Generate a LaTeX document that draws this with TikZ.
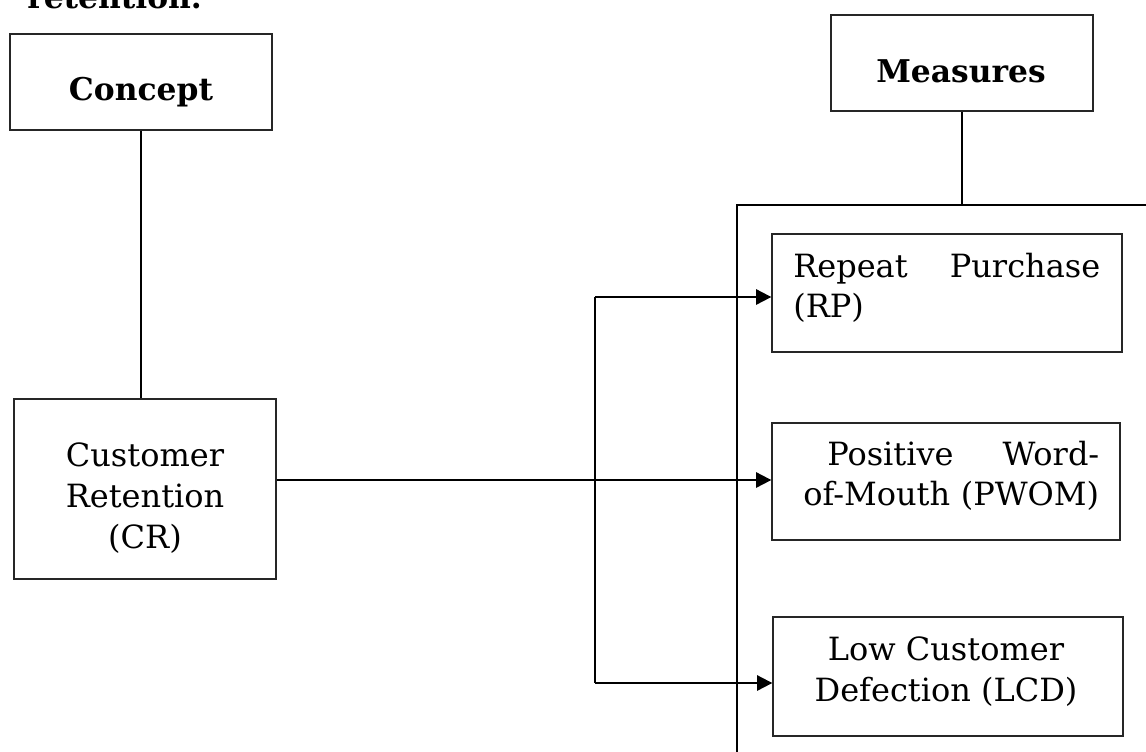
\documentclass[tikz,border=0pt]{standalone}
\usepackage{fontspec}
\setmainfont{DejaVu Serif}
\usetikzlibrary{arrows.meta}
\begin{document}
\begin{tikzpicture}[x=0.75pt,y=-0.75pt,
  box/.style={draw=black!85,line width=1pt,inner sep=0pt,minimum width=#1},
  conn/.style={line width=1.5pt,black},
  arr/.style={conn,-{Triangle[length=11.5pt,width=11.5pt]}},
  txt/.style={inner sep=0pt,font=\fontsize{24}{30.5}\selectfont},
  btxt/.style={inner sep=0pt,font=\fontsize{23.5}{30.5}\selectfont\bfseries}]
\useasboundingbox (0,0) rectangle (1146,751);
% heading fragment
\node[btxt,anchor=base west] (head) at (27,8) {retention.};
% boxes
\node[box=196.5pt,minimum height=72pt] (concept) at (141,82) {};
\node[box=196.5pt,minimum height=72pt] (measures) at (962,63) {};
\node[box=196.5pt,minimum height=135pt] (cr) at (145,489) {};
\node[box=262.5pt,minimum height=88.5pt] (rp) at (947,293) {};
\node[box=261pt,minimum height=87.75pt] (pw) at (946,481.5) {};
\node[box=262.5pt,minimum height=89.25pt] (lcd) at (948,676.5) {};
% texts
\node[btxt,anchor=base] (conceptT) at (141,100) {Concept};
\node[btxt,anchor=base] (measuresT) at (961,82) {Measures};
\node[txt,anchor=base,align=center] (crT) at (145,548) {Customer\\Retention\\(CR)};
\node[txt,anchor=base west,text width=230.25pt,align=left] (rpT) at (793,277) {Repeat\hfill Purchase\\(RP)};
\node[txt,anchor=base west,text width=222pt,align=left] (pwT) at (803,465) {\hspace*{18pt}Positive\hfill Word-\\of-Mouth~(PWOM)};
\node[txt,anchor=base,align=center] (lcdT) at (946,701) {Low Customer\\Defection (LCD)};
% connectors
\coordinate (brL) at (737,205);
\coordinate (brR) at (1150,205);
\coordinate (brB) at (737,755);
\coordinate (a1) at (595,297);
\coordinate (a3) at (595,683);
\draw[conn] (concept.south) -- (concept.south |- cr.north);
\draw[conn] (measures.south) -- (measures.south |- brL);
\draw[conn] (brR) -- (brL) -- (brB);
\draw[arr] (cr.east |- 0,480) -- (pw.west |- 0,480);
\draw[conn] (a1) -- (a3);
\draw[arr] (a1) -- (a1 -| rp.west);
\draw[arr] (a3) -- (a3 -| lcd.west);
\end{tikzpicture}
\end{document}
